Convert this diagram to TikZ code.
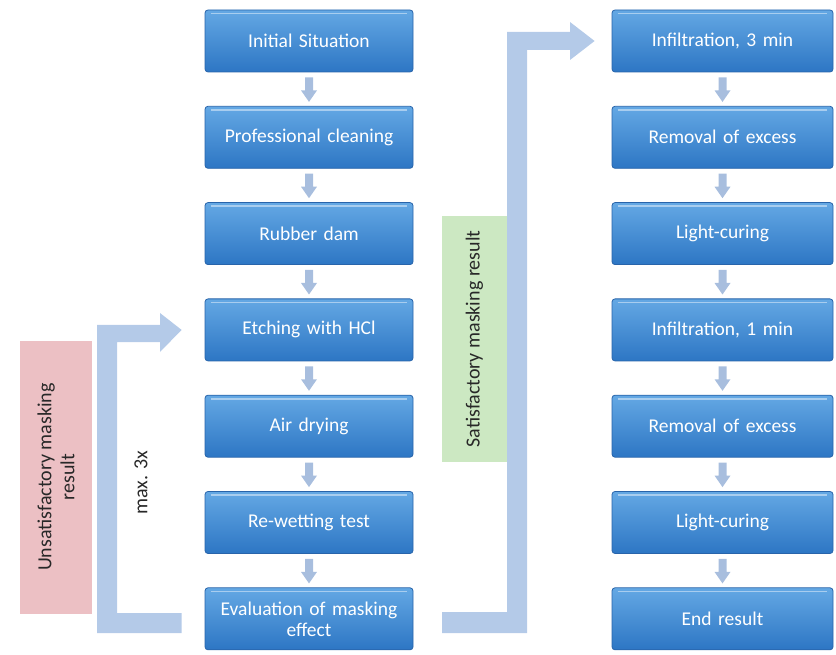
\documentclass[tikz,border=0pt]{standalone}
\usepackage{fontspec}
\setmainfont{Carlito}
\usetikzlibrary{calc}
\definecolor{boxtop}{RGB}{100,168,228}
\definecolor{boxbot}{RGB}{45,118,196}
\definecolor{boxedge}{RGB}{40,100,170}
\definecolor{loopcol}{RGB}{180,202,232}
\definecolor{smallarr}{RGB}{168,190,222}
\definecolor{pinkbox}{RGB}{236,192,196}
\definecolor{greenbox}{RGB}{204,232,194}
\definecolor{darktext}{RGB}{40,40,40}
\tikzset{
  stepbox/.style={rectangle, rounded corners=3pt, draw=boxedge, line width=0.8pt,
    top color=boxtop, bottom color=boxbot, text=white, font=\fontsize{19.5}{21}\selectfont,
    align=center, inner sep=2pt},
  leftbox/.style={stepbox, minimum width=208pt, minimum height=62pt, text width=200pt},
  rightbox/.style={stepbox, minimum width=221pt, minimum height=62pt, text width=213pt},
  downarr/.style={fill=smallarr, draw=none},
  loopshape/.style={fill=loopcol, draw=none},
  sidetext/.style={rotate=90, align=center, text=darktext, font=\fontsize{20}{23}\selectfont},
}
\newcommand{\smalldown}[2]{%
  \fill[downarr] ($(#1.south)+(-4,5)$) -- ($(#1.south)+(4,5)$) -- ($(#1.south)+(4,18)$)
  -- ($(#1.south)+(8,18)$) -- ($(#2.north)+(0,-4)$) -- ($(#1.south)+(-8,18)$)
  -- ($(#1.south)+(-4,18)$) -- cycle;}
\begin{document}
\begin{tikzpicture}[x=1pt,y=-1pt]
\useasboundingbox (0,0) rectangle (836,655);
% left column
\foreach \i/\t/\n in {0/Initial Situation/L0,1/Professional cleaning/L1,2/Rubber dam/L2,3/Etching with HCl/L3,4/Air drying/L4,5/Re-wetting test/L5,6/{Evaluation of masking\\effect}/L6}{
  \node[leftbox] (\n) at (309, {41+96.3*\i}) {\t};
}
\foreach \i/\t/\n in {0/{Infiltration, 3 min}/R0,1/Removal of excess/R1,2/Light-curing/R2,3/{Infiltration, 1 min}/R3,4/Removal of excess/R4,5/Light-curing/R5,6/End result/R6}{
  \node[rightbox] (\n) at (722.5, {41+96.3*\i}) {\t};
}
% highlights on boxes
\foreach \n in {L0,L1,L2,L3,L4,L5,L6,R0,R1,R2,R3,R4,R5,R6}{
  \draw[white, opacity=0.45, line width=1.5pt] ($(\n.north west)+(6,4)$) -- ($(\n.north east)+(-6,4)$);
}
% small arrows
\foreach \a/\b in {L0/L1,L1/L2,L2/L3,L3/L4,L4/L5,L5/L6,R0/R1,R1/R2,R2/R3,R3/R4,R4/R5,R5/R6}{
  \smalldown{\a}{\b}
}
% pink box and text
\node[fill=pinkbox, minimum width=72pt, minimum height=273pt, inner sep=0pt] (pink) at (56,477) {};
\node[sidetext] (pinktext) at (pink.center) {Unsatisfactory masking\\result};
% left loop arrow
\coordinate (lb) at ($(L6.west)+(-23,0)$);
\coordinate (lt) at ($(L3.west)+(-23,0)$);
\fill[loopshape] (lb |- 0,633) -- (97,633) -- (97,325) -- (160,325) -- (160,313)
  -- (lt) -- (160,352) -- (160,342) -- (117,342) -- (117,613) -- (lb |- 0,613) -- cycle;
\node[sidetext] (maxx) at (141,483) {max. 3x};
% green box
\node[fill=greenbox, minimum width=65pt, minimum height=245pt, inner sep=0pt] (green) at (474.5,339) {};
\node[sidetext] (greentext) at (green.center) {Satisfactory masking result};
% right arrow
\coordinate (rt) at ($(R0.west)+(-17,0)$);
\fill[loopshape] (442,612) -- (507,612) -- (507,32) -- (570,32) -- (570,22) -- (rt |- 0,41)
  -- (570,60) -- (570,50) -- (527,50) -- (527,633) -- (442,633) -- cycle;
\end{tikzpicture}
\end{document}
